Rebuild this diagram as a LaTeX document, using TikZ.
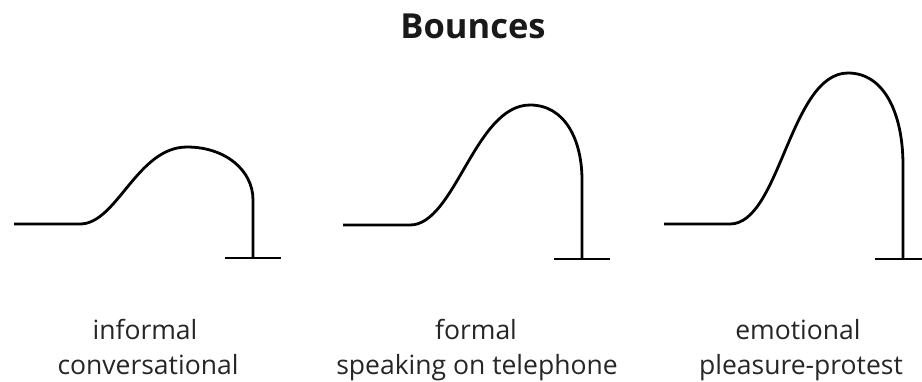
\documentclass[tikz,border=0pt]{standalone}
\usepackage{fontspec}
\setmainfont{Open Sans}
\begin{document}
\begin{tikzpicture}[x=1pt,y=-1pt,
  contour/.style={line width=2.8pt,black,line join=round},
  label/.style={anchor=base,inner sep=0pt,font=\fontsize{26.5}{26.5}\selectfont,text=black!85},
  heading/.style={anchor=base,inner sep=0pt,font=\fontsize{34.5}{34.5}\selectfont\bfseries,text=black!90}]
\useasboundingbox[fill=white] (0,0) rectangle (922,381);
% title
\node[heading] (title) at (473,38) {Bounces};
% contour 1: informal
\draw[contour] (14,224) -- (80,224)
  .. controls (117,224) and (137,147) .. (187,147)
  .. controls (225,147) and (253,170) .. (253,200) -- (253,258);
\draw[contour] (225,258) -- (281,258);
% contour 2: formal
\draw[contour] (343,225) -- (410,225)
  .. controls (455,225) and (475,105) .. (530,105)
  .. controls (565,105) and (582,140) .. (582,180) -- (582,259);
\draw[contour] (554,259) -- (610,259);
% contour 3: emotional
\draw[contour] (664,224) -- (730,224)
  .. controls (780,224) and (790,73) .. (848,73)
  .. controls (885,73) and (903,115) .. (903,165) -- (903,259);
\draw[contour] (875,259) -- (925,259);
% labels
\node[label] (l1a) at (145,339) {informal};
\node[label] (l1b) at (148,374) {conversational};
\node[label] (l2a) at (476,339) {formal};
\node[label] (l2b) at (477,374) {speaking on telephone};
\node[label] (l3a) at (798,339) {emotional};
\node[label] (l3b) at (801,374) {pleasure-protest};
\end{tikzpicture}
\end{document}
